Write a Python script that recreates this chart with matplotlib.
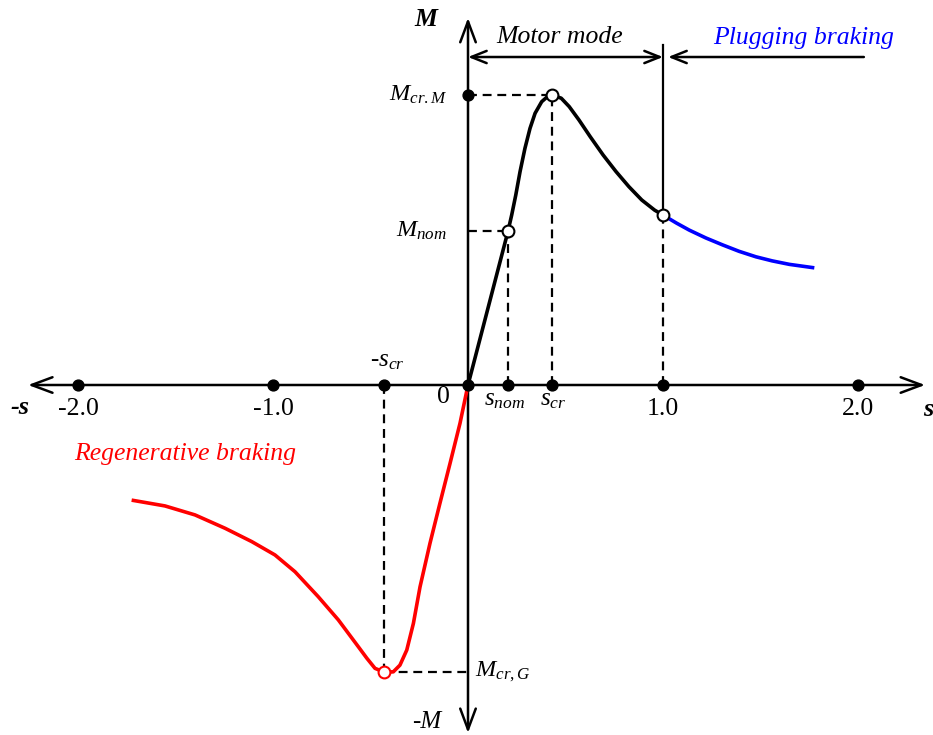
import matplotlib.pyplot as plt
import numpy as np

plt.rcParams['font.family'] = ['Liberation Serif', 'DejaVu Serif']
plt.rcParams['mathtext.fontset'] = 'custom'
plt.rcParams['mathtext.rm'] = 'Liberation Serif'
plt.rcParams['mathtext.it'] = 'Liberation Serif:italic'

# characteristic points
s_nom, s_cr = 0.205, 0.43
M_nom, M_crM, M_s1, M_crG = 0.53, 1.0, 0.586, -0.99
ticks = [-2.0, -1.0, 1.0, 2.0]

# motor mode branch (0 <= s <= 1)
s_motor = [0, 0.205, 0.224, 0.245, 0.267, 0.292, 0.318, 0.344, 0.378, 0.412, 0.43,
           0.478, 0.519, 0.569, 0.627, 0.693, 0.759, 0.825, 0.891, 0.957, 1.0]
M_motor = [0, 0.53, 0.586, 0.655, 0.736, 0.816, 0.885, 0.937, 0.977, 0.997, 1.0,
           0.989, 0.96, 0.914, 0.856, 0.793, 0.736, 0.684, 0.638, 0.603, 0.586]

# plugging braking branch (s > 1)
s_plug = [1.0, 1.07, 1.135, 1.22, 1.306, 1.39, 1.477, 1.56, 1.648, 1.776]
M_plug = [0.586, 0.558, 0.534, 0.507, 0.483, 0.461, 0.442, 0.428, 0.416, 0.404]

# regenerative braking branch (s < 0)
s_gen = [0, -0.041, -0.092, -0.144, -0.195, -0.246, -0.28, -0.314, -0.349, -0.383, -0.43,
         -0.477, -0.519, -0.563, -0.665, -0.768, -0.887, -0.99, -1.109, -1.246, -1.4,
         -1.554, -1.725]
M_gen = [0, -0.132, -0.27, -0.408, -0.546, -0.696, -0.822, -0.914, -0.966, -0.989, -0.99,
         -0.977, -0.942, -0.902, -0.81, -0.73, -0.644, -0.586, -0.54, -0.494, -0.448,
         -0.417, -0.397]

fig = plt.figure(figsize=(9.33, 7.35), dpi=100)
ax = fig.add_axes([0, 0, 1, 1])
ax.set_xlim(-468 / 195, 465 / 195)
ax.set_ylim(-350 / 290, 385 / 290)
ax.axis('off')

head = dict(mutation_scale=20, shrinkA=0, shrinkB=0, color='black', lw=1.8)

def arrow(x0, y0, x1, y1, style):
    ax.annotate('', xy=(x1, y1), xytext=(x0, y0),
                arrowprops=dict(arrowstyle=style, **head))

# axes with arrows on both ends
arrow(-2.256, 0, 2.344, 0, '<->,head_length=0.75,head_width=0.28')
arrow(0, -1.2, 0, 1.266, '<->,head_length=0.75,head_width=0.28')

# mode arrows
arrow(0, 1.131, 1.0, 1.131, '<->,head_length=0.55,head_width=0.22')
arrow(2.03, 1.131, 1.026, 1.131, '->,head_length=0.55,head_width=0.22')
ax.plot([1.0, 1.0], [1.172, M_s1], color='black', lw=1.6)

# dashed guide lines
dash = dict(color='black', lw=1.6, dashes=(4, 2.6))
ax.plot([0, s_cr], [M_crM, M_crM], **dash)
ax.plot([0, s_nom], [M_nom, M_nom], **dash)
ax.plot([-s_cr, 0], [M_crG, M_crG], **dash)
ax.plot([s_nom, s_nom], [0, M_nom], **dash)
ax.plot([s_cr, s_cr], [0, M_crM], **dash)
ax.plot([1.0, 1.0], [0, M_s1], **dash)
ax.plot([-s_cr, -s_cr], [0, M_crG], **dash)

# characteristic curves
line = dict(lw=2.6, solid_joinstyle='round', solid_capstyle='butt', zorder=4)
ax.plot(s_motor, M_motor, color='black', **line)
ax.plot(s_plug, M_plug, color='#0000ff', **line)
ax.plot(s_gen, M_gen, color='#ff0000', **line)

# points on the axes
ax.plot(ticks + [-s_cr, s_nom, s_cr, 0], [0] * 8, 'o', color='black', ms=7.8, zorder=5)
ax.plot([0], [M_crM], 'o', color='black', ms=7.8, zorder=5)

# characteristic points on the curves
ax.plot([s_nom, s_cr, 1.0], [M_nom, M_crM, M_s1], 'o', mfc='white', mec='black',
        mew=1.5, ms=8.5, zorder=6)
ax.plot([-s_cr], [M_crG], 'o', mfc='white', mec='#ff0000', mew=1.5, ms=8.5, zorder=6)

# tick labels
for t in ticks:
    ax.text(t, -0.083, f'{t:.1f}', fontsize=18.5, ha='center', va='center')
ax.text(-0.128, -0.041, '0', fontsize=18.5, ha='center', va='center')
ax.text(s_nom - 0.02, -0.052, r'$s_{nom}$', fontsize=18, ha='center', va='center')
ax.text(s_cr + 0.006, -0.052, r'$s_{cr}$', fontsize=18, ha='center', va='center')
ax.text(-s_cr + 0.015, 0.083, r'-$s_{cr}$', fontsize=18, ha='center', va='center')

ax.text(-0.108, M_crM, r'$M_{cr.M}$', fontsize=17.5, ha='right', va='center')
ax.text(-0.108, M_nom, r'$M_{nom}$', fontsize=17.5, ha='right', va='center')
ax.text(0.036, M_crG, r'$M_{cr,G}$', fontsize=17.5, ha='left', va='center')

# axis names
ax.text(-0.215, 1.259, 'M', fontsize=18.5, fontweight='bold', style='italic',
        ha='center', va='center')
ax.text(-0.21, -1.162, '-M', fontsize=18, style='italic', ha='center', va='center')
ax.text(-2.297, -0.079, '-s', fontsize=19, fontweight='bold', style='italic',
        ha='center', va='center')
ax.text(2.359, -0.086, 's', fontsize=19, fontweight='bold', style='italic',
        ha='center', va='center')

# operating modes
ax.text(0.472, 1.2, 'Motor mode', fontsize=18.5, style='italic', ha='center', va='center')
ax.text(1.723, 1.197, 'Plugging braking', fontsize=18.5, style='italic', color='#0000ff',
        ha='center', va='center')
ax.text(-1.451, -0.238, 'Regenerative braking', fontsize=18.5, style='italic',
        color='#ff0000', ha='center', va='center')

fig.savefig('out.png', dpi=100)
